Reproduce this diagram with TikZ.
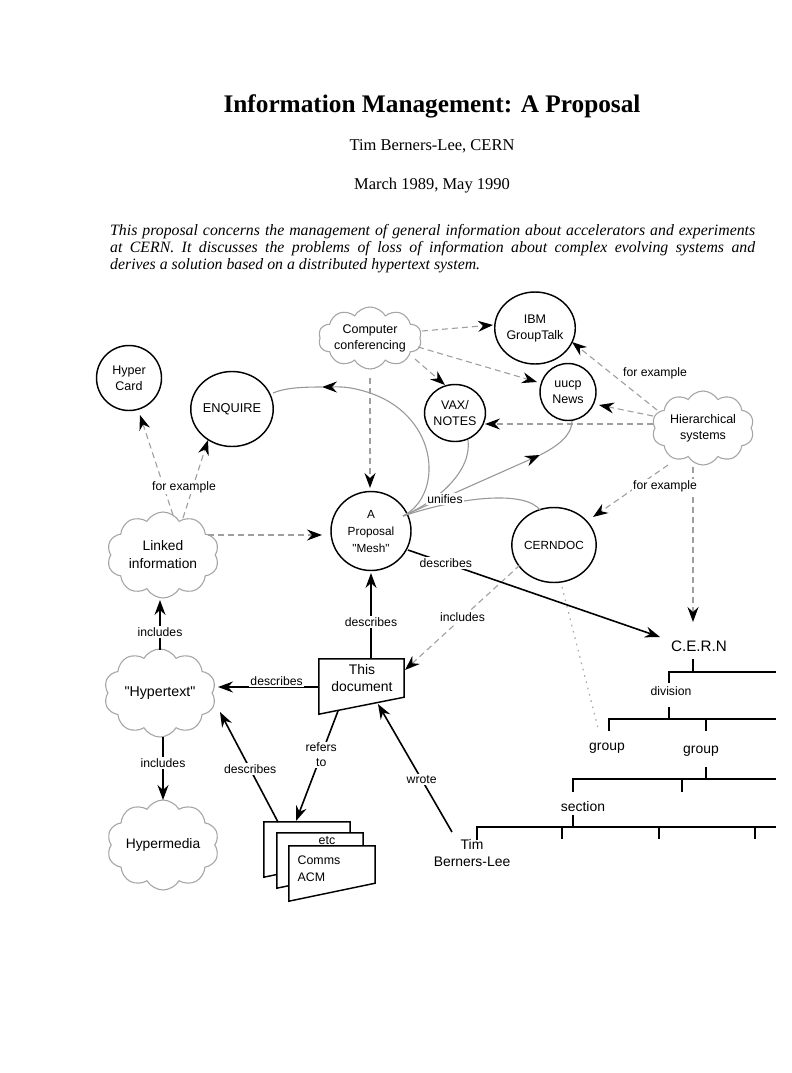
\documentclass[tikz,border=0pt]{standalone}
\usepackage{fontspec}
\setmainfont{Liberation Serif}
\newfontfamily\arial{Liberation Sans}
\usetikzlibrary{shapes.geometric,shapes.symbols,arrows.meta,calc}
\tikzset{
 tip/.style={-{Stealth[length=15pt,width=11pt,inset=5pt,color=black]}},
 circ/.style={ellipse, draw=black, line width=1.45pt, align=center, inner sep=0pt, font=\arial\fontsize{12.5}{16}\selectfont},
 cloudn/.style={cloud, cloud puffs=10, cloud puff arc=120, cloud ignores aspect, draw=gray!70, line width=1.1pt, align=center, inner sep=0pt, font=\arial\fontsize{13.8}{18}\selectfont},
 dashedge/.style={draw=gray!75, line width=1.1pt, dash pattern=on 6pt off 4pt, tip},
 soledge/.style={draw=black, line width=1.6pt, tip},
 unifline/.style={draw=gray!80, line width=1.1pt},
 lbl/.style={fill=white, inner sep=1.5pt, align=center, font=\arial\fontsize{12.2}{15}\selectfont},
 plain/.style={inner sep=0pt, align=center, font=\arial\fontsize{13.9}{17}\selectfont},
 docshape/.style={draw=black, fill=white, line width=1.45pt},
 tree/.style={draw=black, line width=1.5pt},
}
\begin{document}
\begin{tikzpicture}[x=1pt,y=-1pt]
\useasboundingbox[fill=white] (0,0) rectangle (792,1073);

% heading
\node[anchor=base, font=\bfseries\fontsize{25.3}{28}\selectfont] (title) at (432,112) {Information Management: A Proposal};
\node[anchor=base, font=\fontsize{16.5}{20}\selectfont] (author) at (432,150) {Tim Berners-Lee, CERN};
\node[anchor=base, font=\fontsize{16.5}{20}\selectfont] (date) at (432,189) {March 1989, May 1990};
\node[anchor=base west, inner sep=0pt, font=\itshape\fontsize{15.8}{18}\selectfont] (abs1) at (110,235) {\makebox[645pt][s]{This proposal concerns the management of general information about accelerators and experiments}};
\node[anchor=base west, inner sep=0pt, font=\itshape\fontsize{15.8}{18}\selectfont] (abs2) at (110,252) {\makebox[645pt][s]{at CERN. It discusses the problems of loss of information about complex evolving systems and}};
\node[anchor=base west, inner sep=0pt, font=\itshape\fontsize{15.8}{18}\selectfont] (abs3) at (110,269) {derives a solution based on a distributed hypertext system.};

% nodes
\node[cloudn, minimum width=100pt, minimum height=62pt, font=\arial\fontsize{12.5}{16}\selectfont] (cc) at (370,338) {Computer\\conferencing};
\node[circ, minimum width=72pt, minimum height=72pt] (ibm) at (535,328) {IBM\\GroupTalk};
\node[circ, minimum width=65pt, minimum height=65pt] (hc) at (129,378) {Hyper\\Card};
\node[circ, minimum width=82pt, minimum height=75pt, font=\arial\fontsize{12.8}{16}\selectfont] (enq) at (232,409) {ENQUIRE};
\node[circ, minimum width=56pt, minimum height=57pt] (vax) at (455,413) {VAX/\\NOTES};
\node[circ, minimum width=56pt, minimum height=57pt] (uucp) at (568,392) {uucp\\News};
\node[cloudn, minimum width=102pt, minimum height=74pt, font=\arial\fontsize{12.5}{16}\selectfont] (hier) at (703,428) {Hierarchical\\systems};
\node[circ, minimum width=80pt, minimum height=79pt, font=\arial\fontsize{11.8}{17}\selectfont] (mesh) at (371,531) {A\\Proposal\\"Mesh"};
\node[cloudn, minimum width=112pt, minimum height=86pt] (li) at (163,555) {Linked\\information};
\node[circ, minimum width=82pt, minimum height=75pt, font=\arial\fontsize{11.8}{16}\selectfont] (cdoc) at (554,545) {CERNDOC};
\node[cloudn, minimum width=112pt, minimum height=88pt, font=\arial\fontsize{14.2}{18}\selectfont] (ht) at (160,693) {"Hypertext"};
\node[cloudn, minimum width=112pt, minimum height=90pt] (hm) at (163,845) {Hypermedia};

% this document
\node[minimum width=85pt, minimum height=55pt, inner sep=0pt] (doc) at (361.5,686.5) {};
\draw[docshape] (doc.north west) -- (doc.north east) -- ([yshift=17pt]doc.south east) -- (doc.south west) -- cycle;
\node[plain] (doctext) at (362,678) {This\\document};

% stacked documents
\node[minimum width=86pt, minimum height=55pt, inner sep=0pt] (sback) at (307,849.5) {};
\node[minimum width=86pt, minimum height=55pt, inner sep=0pt] (smid) at (320,860.5) {};
\node[minimum width=86pt, minimum height=55pt, inner sep=0pt] (sfront) at (332,873.5) {};
\draw[docshape] (sback.north west) -- (sback.north east) -- ([yshift=18pt]sback.south east) -- (sback.south west) -- cycle;
\draw[docshape] (smid.north west) -- (smid.north east) -- ([yshift=18pt]smid.south east) -- (smid.south west) -- cycle;
\node[plain, font=\arial\fontsize{12.4}{17}\selectfont] (etc) at (327,841) {etc};
\draw[docshape] (sfront.north west) -- (sfront.north east) -- ([yshift=18pt]sfront.south east) -- (sfront.south west) -- cycle;
\node[plain, align=left, font=\arial\fontsize{12.4}{17}\selectfont] (sftext) at (319,868.5) {Comms\\ACM};

\node[plain] (tim) at (472,853) {Tim\\Berners-Lee};

% tree
\node[plain, font=\arial\fontsize{15.2}{18}\selectfont] (cern) at (699,646) {C.E.R.N};
\node[plain, font=\arial\fontsize{12.2}{15}\selectfont] (div) at (671,691) {division};
\node[plain] (grp1) at (607,748) {group};
\node[plain] (grp2) at (701,751) {group};
\node[plain] (sec) at (583,807) {section};
\draw[tree] (693,659) -- (693,672);
\draw[tree] (776,672) -- (669,672) -- (669,683);
\draw[tree] (669,707) -- (669,719);
\draw[tree] (609,731) -- (609,719) -- (776,719);
\draw[tree] (706,719) -- (706,731);
\draw[tree] (706,767) -- (706,779);
\draw[tree] (573,792) -- (573,779) -- (776,779);
\draw[tree] (682,779) -- (682,792);
\draw[tree] (573,815) -- (573,827);
\draw[tree] (477,840) -- (477,827) -- (776,827);
\draw[tree] (562,827) -- (562,839);
\draw[tree] (659,827) -- (659,839);
\draw[tree] (755,827) -- (755,839);

% dashed edges
\draw[dashedge] ([shift={(52,-7)}]cc.center) -- ([shift={(-42,-3)}]ibm.center);
\draw[dashedge] ([shift={(48,9)}]cc.center) -- ([shift={(-31,-10)}]uucp.center);
\draw[dashedge] ([shift={(45,21)}]cc.center) -- ([shift={(-10,-28)}]vax.center);
\draw[dashedge] ([shift={(0,40)}]cc.center) -- ([shift={(-1,-43)}]mesh.center);
\draw[dashedge] ([shift={(-46,-18)}]hier.center) -- ([shift={(37,14)}]ibm.center);
\draw[dashedge] ([shift={(-50,-12)}]hier.center) -- ([shift={(31,13)}]uucp.center);
\draw[dashedge] ([shift={(-50,-4)}]hier.center) -- ([shift={(30,11)}]vax.center);
\draw[dashedge] ([shift={(-35,37)}]hier.center) -- ([shift={(39,-28)}]cdoc.center);
\draw[dashedge] ([shift={(-10,39)}]hier.center) -- ([shift={(-6,-24)}]cern.center);
\draw[dashedge] ([shift={(10,-40)}]li.center) -- ([shift={(11,37)}]hc.center);
\draw[dashedge] ([shift={(20,-37)}]li.center) -- ([shift={(-24,31)}]enq.center);
\draw[dashedge] ([shift={(45,-20)}]li.center) -- ([shift={(-49,4)}]mesh.center);
\draw[dashedge] ([shift={(-34,20)}]cdoc.center) -- node[lbl, pos=0.5] (l17) {includes} ([shift={(43.5,-16.5)}]doc.center);
\draw[draw=gray!70, line width=1.2pt, dash pattern=on 1.5pt off 5pt] ([shift={(8,42)}]cdoc.center) -- ([shift={(-9,-20)}]grp1.center);

\node[font=\arial\fontsize{12.2}{15}\selectfont, inner sep=1pt] (fe1) at (655,373) {for example};
\node[lbl] (fe2) at (665,486) {for example};
\node[lbl] (fe3) at (184,487) {for example};

% solid edges
\draw[soledge] ([shift={(0,-43)}]ht.center) -- node[lbl, pos=0.36] (l13) {includes} ([shift={(0,45)}]li.center -| ht.center);
\draw[soledge] ([shift={(3,44)}]ht.center) -- node[lbl, pos=0.42] (l14) {includes} ([shift={(0,-45)}]hm.center);
\draw[soledge] ([shift={(-42.5,0.5)}]doc.center) -- node[lbl, above=-1pt, pos=0.42] (l15) {describes} ([shift={(58,-6)}]ht.center);
\draw[soledge] ([shift={(9.5,-27.5)}]doc.center) -- node[lbl, pos=0.43] (l16) {describes} ([shift={(0,42)}]mesh.center);
\draw[soledge] ([shift={(37,19)}]mesh.center) -- node[lbl, pos=0.15] (l18) {describes} ([shift={(-39,-9)}]cern.center);
\draw[soledge] ([shift={(-23.5,24.5)}]doc.center) -- node[lbl, pos=0.4] (l20) {refers\\to} ([shift={(-11,-28.5)}]sback.center);
\draw[soledge] ([shift={(-29,-27.5)}]sback.center) -- node[lbl, pos=0.48] (l21) {describes} ([shift={(60,19)}]ht.center);
\draw[soledge] ([shift={(-20,-21)}]tim.center) -- node[lbl, pos=0.41] (l22) {wrote} ([shift={(16.5,17.5)}]doc.center);

% unifies
\coordinate (mu) at ([shift={(32,-15)}]mesh.center);
\coordinate (ua) at (322,387);
\coordinate (ub) at (540,455);
\draw[unifline, tip] (mu) .. controls (445,495) and (440,410) .. (360,390) .. controls (345,386) and (335,387) .. (ua);
\draw[unifline] (ua) .. controls (300,387) and (285,388) .. ([shift={(41,-16)}]enq.center);
\draw[unifline] (mu) .. controls (440,500) and (472,470) .. ([shift={(13,27)}]vax.center);
\draw[unifline, tip] (mu) -- (ub);
\draw[unifline] (ub) .. controls (558,446) and (572,435) .. ([shift={(4,29)}]uucp.center);
\draw[unifline] (mu) .. controls (460,497) and (525,490) .. ([shift={(-14,-35)}]cdoc.center);
\node[lbl] (unif) at (445,499) {unifies};
\end{tikzpicture}
\end{document}
